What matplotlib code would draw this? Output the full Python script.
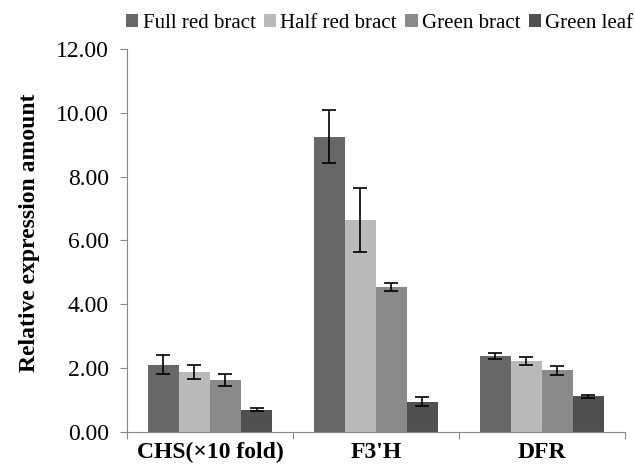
import numpy as np
import matplotlib.pyplot as plt
from matplotlib.patches import Patch

plt.rcParams['font.family'] = ['Liberation Serif', 'DejaVu Serif']

genes = ["CHS(\u00d710 fold)", "F3'H", "DFR"]
series = ["Full red bract", "Half red bract", "Green bract", "Green leaf"]
full_red = [2.10, 9.25, 2.38]
half_red = [1.88, 6.65, 2.22]
green_bract = [1.63, 4.55, 1.93]
green_leaf = [0.70, 0.95, 1.12]
full_red_err = [0.30, 0.83, 0.08]
half_red_err = [0.22, 1.00, 0.12]
green_bract_err = [0.20, 0.13, 0.15]
green_leaf_err = [0.06, 0.15, 0.05]

values = [full_red, half_red, green_bract, green_leaf]
errors = [full_red_err, half_red_err, green_bract_err, green_leaf_err]
colors = ["#676767", "#bababa", "#8a8a8a", "#505050"]

fig = plt.figure(figsize=(6.35, 4.71), dpi=100)
ax = fig.add_axes([0.2, 0.083, 0.784, 0.813])

x = np.arange(len(genes))
w = 0.187
for i, (vals, errs) in enumerate(zip(values, errors)):
    pos = x - 1.5 * w + i * w
    ax.bar(pos, vals, width=w, color=colors[i], edgecolor="none", zorder=2)
    ax.errorbar(pos, vals, yerr=errs, fmt="none", ecolor="black",
                elinewidth=1.2, capsize=5, capthick=1.2, zorder=3)

ax.set_xlim(-0.5, 2.5)
ax.set_ylim(0, 12)
ax.set_yticks(np.arange(0, 12.1, 2))
ax.set_yticklabels([f"{v:.2f}" for v in np.arange(0, 12.1, 2)], fontsize=17)
ax.set_xticks([-0.5, 0.5, 1.5, 2.5])
ax.set_xticklabels([])
ax.set_xticks(x, minor=True)
ax.set_xticklabels(genes, minor=True, fontsize=17, fontweight="bold")
ax.tick_params(axis="x", which="minor", length=0, pad=7)
ax.tick_params(axis="x", which="major", length=5, color="#888888")
ax.tick_params(axis="y", length=5, color="#888888", pad=8)
ax.set_ylabel("Relative expression amount", fontsize=17, fontweight="bold")
ax.yaxis.set_label_coords(-0.175, 0.52)

for s in ["top", "right"]:
    ax.spines[s].set_visible(False)
for s in ["left", "bottom"]:
    ax.spines[s].set_color("#888888")

handles = [Patch(facecolor=c, edgecolor="none") for c in colors]
fig.legend(handles, series, loc="upper center", bbox_to_anchor=(0.598, 1.01),
           ncol=4, frameon=False, prop={"family": "Liberation Serif", "size": 15},
           handlelength=0.6, handleheight=0.6, handletextpad=0.2, columnspacing=0.4)

fig.savefig("out.png", dpi=100)
